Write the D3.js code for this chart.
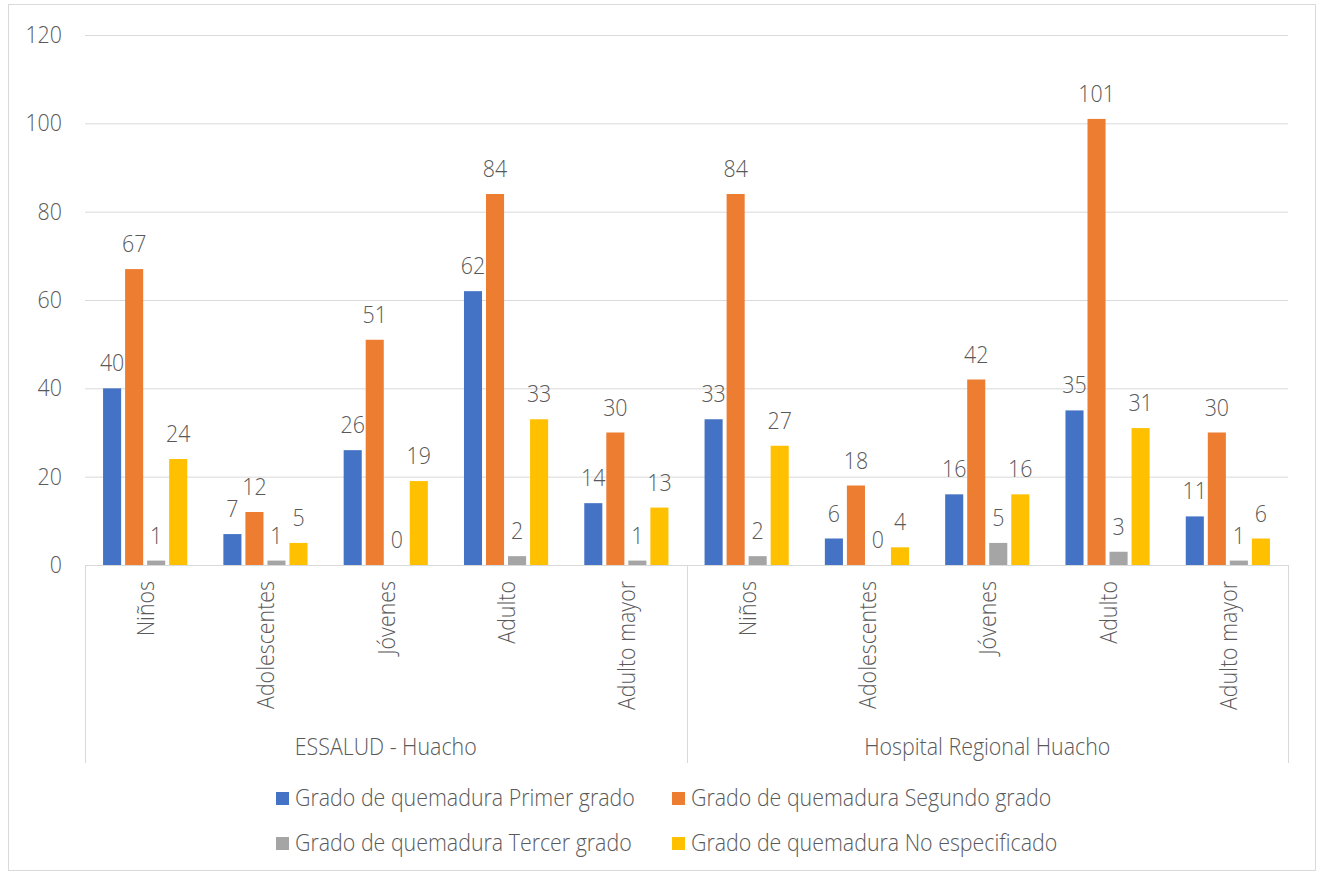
<!DOCTYPE html>
<html><head><meta charset="utf-8">
<script src="https://cdn.jsdelivr.net/npm/d3@7"></script>
<style>body{margin:0;background:#fff}svg{display:block}text{font-family:"Open Sans",sans-serif;font-weight:300;fill:#595959}</style>
</head><body><svg id="c" width="1318" height="873"></svg>
<script>
const groups = ["ESSALUD - Huacho", "Hospital Regional Huacho"];
const categories = ["Niños", "Adolescentes", "Jóvenes", "Adulto", "Adulto mayor"];
const seriesNames = ["Grado de quemadura Primer grado", "Grado de quemadura Segundo grado", "Grado de quemadura Tercer grado", "Grado de quemadura No especificado"];
const colors = ["#4472C4", "#ED7D31", "#A5A5A5", "#FFC000"];
const primer = [40, 7, 26, 62, 14, 33, 6, 16, 35, 11];
const segundo = [67, 12, 51, 84, 30, 84, 18, 42, 101, 30];
const tercer = [1, 1, 0, 2, 1, 2, 0, 5, 3, 1];
const noEspec = [24, 5, 19, 33, 13, 27, 4, 16, 31, 6];
const yTicks = [0, 20, 40, 60, 80, 100, 120];

const series = [primer, segundo, tercer, noEspec];
const FS = 23, SX = 0.93;
const svg = d3.select("#c");
const L = 85, R = 1288, T = 35, B = 565;

function label(parent, tx, ty, str, anchor, rot) {
  return parent.append("text")
    .attr("transform", `translate(${tx},${ty})${rot ? " rotate(" + rot + ")" : ""} scale(${SX},1)`)
    .attr("text-anchor", anchor).attr("font-size", FS).text(str);
}

svg.append("rect").attr("x", 8.5).attr("y", 4.5).attr("width", 1307).attr("height", 866)
  .attr("fill", "#fff").attr("stroke", "#d9d9d9");

const keys = [];
groups.forEach((g, gi) => categories.forEach((c, ci) => keys.push(gi + "|" + ci)));
const x = d3.scaleBand().domain(keys).range([L, R]).paddingInner(0).paddingOuter(0);
const y = d3.scaleLinear().domain([0, 120]).range([B, T]);
const xs = d3.scaleBand().domain(d3.range(4)).range([0, x.bandwidth()]).paddingInner(0.18).paddingOuter(0.82);

// grid + y labels
const yAxis = d3.axisLeft(y).tickValues(yTicks).tickSize(-(R - L)).tickFormat("");
const ga = svg.append("g").attr("transform", `translate(${L},0)`).call(yAxis);
ga.select(".domain").remove();
ga.selectAll(".tick line").attr("stroke", "#d9d9d9").attr("stroke-width", 1);
yTicks.forEach(t => label(svg, 62, y(t) + 8, String(t), "end"));

// bars
keys.forEach((k, i) => {
  const gx = svg.append("g").attr("transform", `translate(${x(k)},0)`);
  series.forEach((s, si) => {
    const v = s[i];
    gx.append("rect").attr("x", xs(si)).attr("width", xs.bandwidth())
      .attr("y", y(v)).attr("height", B - y(v)).attr("fill", colors[si]);
    label(gx, xs(si) + xs.bandwidth() / 2, y(v) - 17, String(v), "middle");
  });
});

// category axis
svg.append("line").attr("x1", L).attr("x2", R).attr("y1", B + 0.5).attr("y2", B + 0.5).attr("stroke", "#d9d9d9");
const bounds = [L, x("1|0"), R];
bounds.forEach(bx => svg.append("line").attr("x1", Math.round(bx) + 0.5).attr("x2", Math.round(bx) + 0.5)
  .attr("y1", B).attr("y2", 763).attr("stroke", "#d9d9d9"));
keys.forEach((k, i) => {
  const cx = x(k) + x.bandwidth() / 2;
  label(svg, cx + 9, 581, categories[i % 5], "end", -90);
});
groups.forEach((g, gi) => {
  const x0 = bounds[gi], x1 = bounds[gi + 1];
  label(svg, (x0 + x1) / 2, 755, g, "middle");
});

// legend
const legPos = [[276, 798], [672, 798], [276, 843], [672, 843]];
seriesNames.forEach((n, i) => {
  const [lx, ly] = legPos[i];
  svg.append("rect").attr("x", lx).attr("y", ly - 6).attr("width", 13).attr("height", 13).attr("fill", colors[i]);
  label(svg, lx + 19, ly + 8, n, "start");
});
</script></body></html>
